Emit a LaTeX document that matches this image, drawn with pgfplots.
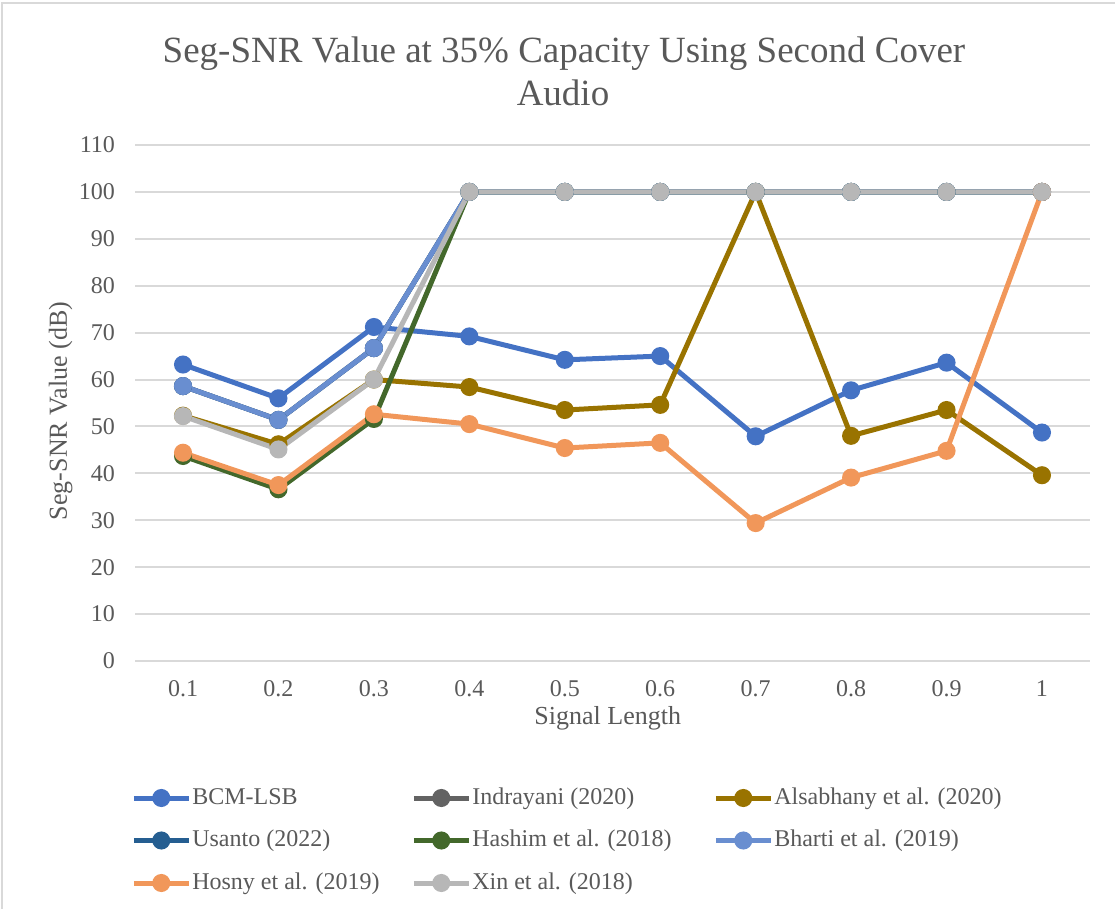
\documentclass[border=0pt]{standalone}
\usepackage{fontspec}
\setmainfont{Liberation Serif}
\usepackage{pgfplots}
\pgfplotsset{compat=1.18}
\definecolor{gridc}{HTML}{D9D9D9}
\definecolor{txtc}{HTML}{595959}
\definecolor{cBCM}{HTML}{4472C4}
\definecolor{cInd}{HTML}{636363}
\definecolor{cAls}{HTML}{997300}
\definecolor{cUsa}{HTML}{255E91}
\definecolor{cHas}{HTML}{43682B}
\definecolor{cBha}{HTML}{698ED0}
\definecolor{cHos}{HTML}{F1975A}
\definecolor{cXin}{HTML}{B7B7B7}
\begin{document}
\begin{tikzpicture}[x=1pt,y=1pt]
\path[use as bounding box] (0,0) rectangle (557.5,454.5);
\draw[color=gridc, line width=1pt] (1,0) -- (1,453) -- (557.5,453);
\node[anchor=base, font=\fontsize{18.5}{22}\selectfont, text=txtc, inner sep=0pt] at (282,423) {Seg-SNR Value at 35\% Capacity Using Second Cover};
\node[anchor=base, font=\fontsize{18.5}{22}\selectfont, text=txtc, inner sep=0pt] at (281.5,401.5) {Audio};
\begin{axis}[
  at={(67.65pt,124pt)}, anchor=south west,
  scale only axis, width=477.2pt, height=258pt,
  xmin=0.05, xmax=1.05, ymin=0, ymax=110,
  xtick={0.1,0.2,0.3,0.4,0.5,0.6,0.7,0.8,0.9,1},
  xticklabels={0.1,0.2,0.3,0.4,0.5,0.6,0.7,0.8,0.9,1},
  ytick={0,10,...,110},
  ymajorgrids, major grid style={color=gridc, line width=1pt},
  axis line style={draw=none}, tick style={draw=none},
  /pgf/number format/assume math mode=true,
  ticklabel style={font=\fontsize{12}{14}\selectfont, text=txtc},
  xticklabel style={anchor=north, inner sep=0pt, yshift=-9.5pt},
  yticklabel style={anchor=east, inner sep=0pt, xshift=-10pt},
  xlabel={Signal Length}, ylabel={Seg-SNR Value (dB)},
  label style={font=\fontsize{13}{15}\selectfont, text=txtc, inner sep=0pt},
  xlabel style={at={(axis description cs:0.495,0)}, anchor=base, yshift=-32pt},
  ylabel style={at={(axis description cs:-0.0716,0.4845)}, anchor=base},
  clip=false,
  every axis plot/.append style={line width=2.5pt, mark=*, mark size=3.25pt, mark options={solid}},
  legend columns=3, legend cell align=left,
  legend style={at={(axis description cs:-0.0042,-0.2442)}, anchor=north west, draw=none, fill=none,
    inner sep=0pt, outer sep=0pt,
    font=\fontsize{12}{14}\selectfont, text=txtc, row sep=10.25pt,
    nodes={inner sep=0pt, outer sep=0pt, text height=8.5pt, text depth=2.5pt}},
  legend image code/.code={\draw[mark repeat=2,mark phase=2] plot coordinates {(0pt,0pt) (13.75pt,0pt) (27.5pt,0pt)}; \path (28pt,0pt);},
]
\addplot[color=cBCM] coordinates {(0.1,63.2) (0.2,56.0) (0.3,71.2) (0.4,69.2) (0.5,64.2) (0.6,65.0) (0.7,47.9) (0.8,57.7) (0.9,63.6) (1,48.7)};
\addlegendentry{\makebox[109.5pt][l]{BCM-LSB}}
\addplot[color=cInd] coordinates {(0.1,58.6) (0.2,51.4) (0.3,66.7) (0.4,100) (0.5,100) (0.6,100) (0.7,100) (0.8,100) (0.9,100) (1,100)};
\addlegendentry{\makebox[120.5pt][l]{Indrayani (2020)}}
\addplot[color=cAls] coordinates {(0.1,52.3) (0.2,46.2) (0.3,60.0) (0.4,58.4) (0.5,53.5) (0.6,54.6) (0.7,100) (0.8,48.0) (0.9,53.5) (1,39.6)};
\addlegendentry{Alsabhany et al. (2020)}
\addplot[color=cUsa] coordinates {(0.1,58.6) (0.2,51.4) (0.3,66.7) (0.4,100) (0.5,100) (0.6,100) (0.7,100) (0.8,100) (0.9,100) (1,100)};
\addlegendentry{\makebox[109.5pt][l]{Usanto (2022)}}
\addplot[color=cHas] coordinates {(0.1,43.7) (0.2,36.6) (0.3,51.6) (0.4,100) (0.5,100) (0.6,100) (0.7,100) (0.8,100) (0.9,100) (1,100)};
\addlegendentry{\makebox[120.5pt][l]{Hashim et al. (2018)}}
\addplot[color=cBha] coordinates {(0.1,58.6) (0.2,51.4) (0.3,66.7) (0.4,100) (0.5,100) (0.6,100) (0.7,100) (0.8,100) (0.9,100) (1,100)};
\addlegendentry{Bharti et al. (2019)}
\addplot[color=cHos] coordinates {(0.1,44.4) (0.2,37.5) (0.3,52.6) (0.4,50.5) (0.5,45.4) (0.6,46.5) (0.7,29.4) (0.8,39.1) (0.9,44.8) (1,100)};
\addlegendentry{\makebox[109.5pt][l]{Hosny et al. (2019)}}
\addplot[color=cXin] coordinates {(0.1,52.2) (0.2,45.1) (0.3,60.0) (0.4,100) (0.5,100) (0.6,100) (0.7,100) (0.8,100) (0.9,100) (1,100)};
\addlegendentry{\makebox[120.5pt][l]{Xin et al. (2018)}}
\end{axis}
\end{tikzpicture}
\end{document}
